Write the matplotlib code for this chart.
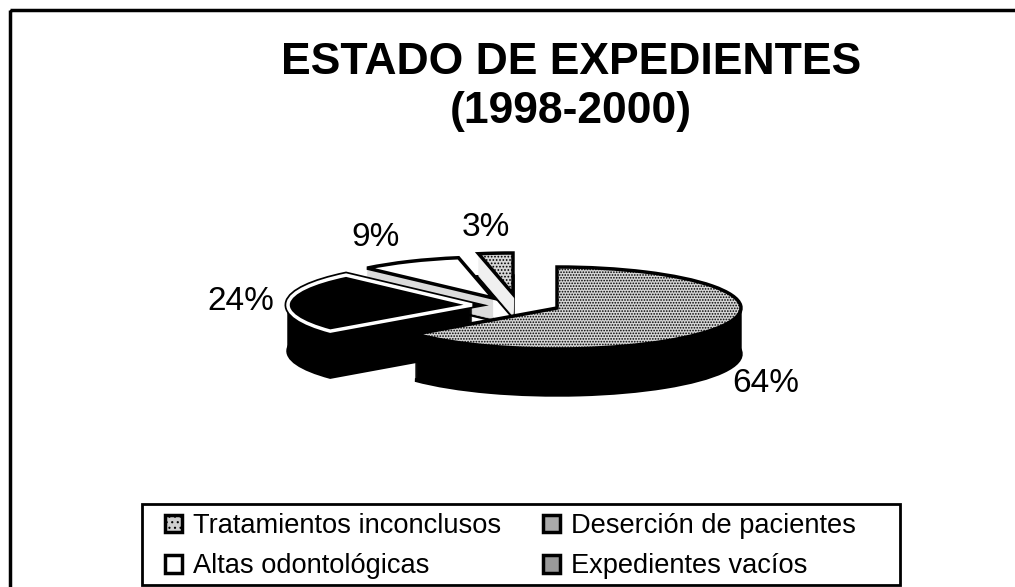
import matplotlib
matplotlib.use("Agg")
import matplotlib.pyplot as plt
from matplotlib.patches import Patch, Rectangle, Wedge
from matplotlib.transforms import Affine2D

plt.rcParams["font.family"] = ["Liberation Sans", "DejaVu Sans"]
plt.rcParams["hatch.linewidth"] = 0.8

TITLE = "ESTADO DE EXPEDIENTES\n(1998-2000)"
categories = ["Tratamientos inconclusos", "Deserción de pacientes",
              "Altas odontológicas", "Expedientes vacíos"]
values = [64, 24, 9, 3]
value_labels = ["64%", "24%", "9%", "3%"]

# look of each slice, same order as categories
top_colors = ["#d6d6d6", "#000000", "#ffffff", "#d6d6d6"]
top_hatches = ["......", None, None, "....."]
side_colors = ["#000000", "#000000", "#dcdcdc", "#f0f0f0"]
edge_colors = ["#000000", "#ffffff", "#000000", "#000000"]
legend_colors = ["#cfcfcf", "#aaaaaa", "#ffffff", "#999999"]
centers = [(557, 308), (472, 305), (493, 298), (513, 294)]
depths = [46, 46, 22, 23]
label_pos = [(766, 384), (241, 302), (376, 237), (486, 228)]

RX, RY = 184, 41

fig = plt.figure(figsize=(10.15, 5.87), dpi=100)
ax = fig.add_axes([0, 0, 1, 1])
ax.set_xlim(0, 1015)
ax.set_ylim(587, 0)
ax.axis("off")

# the scan cuts the frame off on the right and at the bottom
ax.add_patch(Rectangle((10, 10), 1030, 600, fill=False, ec="black", lw=2.5))

ax.text(571, 87, TITLE, ha="center", va="center", fontsize=32, fontweight="bold",
        linespacing=1.26)

# slice start/end angles come from the values, clockwise from 12 o'clock
angles = []
start = 0
for v in values:
    sweep = 360 * v / sum(values)
    angles.append((90 - start - sweep, 90 - start))
    start += sweep


def slice_transform(cx, cy):
    return Affine2D().scale(RX, -RY).translate(cx, cy) + ax.transData


# far slices first so the near ones cover them
for i in [3, 2, 1, 0]:
    theta1, theta2 = angles[i]
    cx, cy = centers[i]
    ax.add_patch(Wedge((0, 0), 1, theta1, theta2, fc=side_colors[i], ec="black", lw=2.5,
                       transform=slice_transform(cx, cy + depths[i])))
    for d in range(depths[i] - 1, 0, -1):
        ax.add_patch(Wedge((0, 0), 1, theta1, theta2, fc=side_colors[i], ec=side_colors[i], lw=0.5,
                           transform=slice_transform(cx, cy + d)))
    # the black slice has a white rim, keep black outside of it
    if edge_colors[i] == "#ffffff":
        ax.add_patch(Wedge((0, 0), 1, theta1, theta2, fc="none", ec="black", lw=5,
                           transform=slice_transform(cx, cy)))
    ax.add_patch(Wedge((0, 0), 1, theta1, theta2, fc=top_colors[i], ec=edge_colors[i],
                       lw=2.5, hatch=top_hatches[i], transform=slice_transform(cx, cy)))

for (x, y), txt in zip(label_pos, value_labels):
    ax.text(x, y, txt, ha="center", va="center", fontsize=24)

ax.add_patch(Rectangle((142, 504), 758, 81, fc="white", ec="black", lw=2))

handles = [Patch(fc=c, ec="black", lw=2.5, hatch=h)
           for c, h in zip(legend_colors, ["...", None, None, None])]
# legend fills column by column, the picture reads row by row
order = [0, 2, 1, 3]
ax.legend([handles[i] for i in order], [categories[i] for i in order], ncol=2,
          loc="upper left", bbox_to_anchor=(165 / 1015, 1 - 513 / 587), fontsize=19.6,
          frameon=False, handlelength=0.62, handleheight=0.62, handletextpad=0.4,
          columnspacing=1.56, labelspacing=0.53, borderaxespad=0, borderpad=0)

fig.savefig("out.png", dpi=100)
